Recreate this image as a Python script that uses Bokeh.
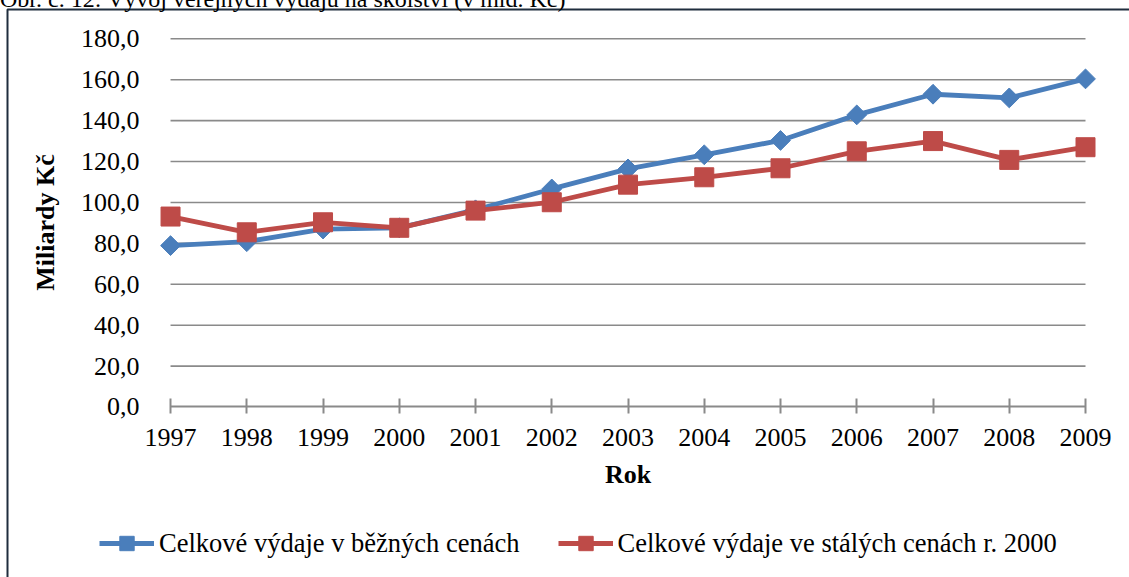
import math
from bokeh.plotting import figure
from bokeh.models import Range1d, FixedTicker, Legend, LegendItem, BoxAnnotation
from bokeh.embed import file_html
from bokeh.resources import INLINE

# ---- data ----
years = [1997, 1998, 1999, 2000, 2001, 2002, 2003, 2004, 2005, 2006, 2007, 2008, 2009]
bezne_ceny = [78.9, 80.8, 87.0, 87.6, 96.4, 106.6, 116.4, 123.3, 130.3, 142.8, 152.9, 151.1, 160.4]
stale_ceny = [93.1, 85.4, 90.3, 87.6, 96.0, 100.1, 108.7, 112.3, 116.7, 125.0, 130.0, 120.8, 127.0]
y_ticks = [0, 20, 40, 60, 80, 100, 120, 140, 160, 180]
y_tick_labels = ["0,0", "20,0", "40,0", "60,0", "80,0", "100,0", "120,0", "140,0", "160,0", "180,0"]
series_names = ["Celkové výdaje v běžných cenách",
                "Celkové výdaje ve stálých cenách r. 2000"]
title_text = "Obr. č. 12: Vývoj veřejných výdajů na školství (v mld. Kč)"
x_title = "Rok"
y_title = "Miliardy Kč"

FONT = "Liberation Serif"
FS = "26px"
BLUE = "#4a7ebb"
RED = "#be4b48"
GRID = "#8a8a8a"
EDGE = "#1f2d3d"

W, H = 1129, 577

# the plotting frame covers the whole canvas; axes are pinned at data positions
p = figure(width=W, height=H, output_backend="svg", toolbar_location=None,
           x_range=Range1d(1994.77, 2009.577),
           y_range=Range1d(-83.35, 198.72),
           min_border=0)
p.outline_line_color = None
p.background_fill_color = "white"
p.border_fill_color = "white"
p.xgrid.visible = False
p.ygrid.visible = False

# outer chart box (left and top edges visible)
p.add_layout(BoxAnnotation(left=7, right=W + 20, top=9, bottom=H + 20,
                           left_units="canvas", right_units="canvas",
                           top_units="canvas", bottom_units="canvas",
                           fill_alpha=0, line_color=EDGE, line_alpha=1.0,
                           line_width=2))

# gridlines spanning only the category extent
gy = y_ticks[1:]
p.segment(x0=[years[0]] * len(gy), x1=[years[-1]] * len(gy), y0=gy, y1=gy,
          line_color=GRID, line_width=1.6)

# series
lb = p.line(years, bezne_ceny, line_color=BLUE, line_width=4.8)
sb = p.scatter(years, bezne_ceny, marker="square", angle=math.pi / 4, size=14,
               fill_color=BLUE, line_color=BLUE)
lr = p.line(years, stale_ceny, line_color=RED, line_width=4.8)
sr = p.scatter(years, stale_ceny, marker="square", size=19,
               fill_color=RED, line_color=RED)

# x axis (pinned at y = 0)
xa = p.xaxis[0]
xa.fixed_location = y_ticks[0]
xa.ticker = FixedTicker(ticks=years)
xa.bounds = (years[0], years[-1])
xa.axis_line_color = GRID
xa.axis_line_width = 2
xa.major_tick_line_color = GRID
xa.major_tick_line_width = 2
xa.major_tick_in = 8
xa.major_tick_out = 7
xa.minor_tick_line_color = None
xa.major_label_text_font = FONT
xa.major_label_text_font_size = FS
xa.major_label_text_color = "black"
xa.major_label_standoff = 15
xa.axis_label = x_title
xa.axis_label_text_font = FONT
xa.axis_label_text_font_size = FS
xa.axis_label_text_font_style = "bold"
xa.axis_label_text_color = "black"
xa.axis_label_standoff = 11

# y axis (pinned at the first category)
ya = p.yaxis[0]
ya.fixed_location = years[0]
ya.ticker = FixedTicker(ticks=y_ticks)
ya.bounds = (y_ticks[0], y_ticks[-1])
ya.major_label_overrides = dict(zip(y_ticks, y_tick_labels))
ya.axis_line_color = None
ya.major_tick_line_color = None
ya.major_tick_out = 0
ya.major_tick_in = 0
ya.minor_tick_line_color = None
ya.major_label_text_font = FONT
ya.major_label_text_font_size = FS
ya.major_label_text_color = "black"
ya.major_label_standoff = 31
ya.axis_label = y_title
ya.axis_label_text_font = FONT
ya.axis_label_text_font_size = FS
ya.axis_label_text_font_style = "bold"
ya.axis_label_text_color = "black"
ya.axis_label_standoff = 18

# series legend at the bottom of the chart box
legend = Legend(items=[LegendItem(label=series_names[0], renderers=[lb, sb]),
                       LegendItem(label=series_names[1], renderers=[lr, sr])],
                orientation="horizontal", location=(99, 16),
                glyph_width=55, glyph_height=36, label_standoff=5, spacing=38,
                padding=0, margin=0, border_line_color=None,
                background_fill_alpha=0,
                label_text_font=FONT, label_text_font_size="26.5px",
                label_text_color="black")
p.add_layout(legend, "center")

# caption above the chart box (cut off at the top edge, as in the reference)
cap_r = p.line(x=[], y=[], line_alpha=0)
caption = Legend(items=[LegendItem(label=title_text, renderers=[cap_r])],
                 location=(0, 564), glyph_width=0, glyph_height=1,
                 label_standoff=0, padding=0, margin=0,
                 border_line_color=None, background_fill_alpha=0,
                 label_text_font=FONT, label_text_font_size="24px",
                 label_text_color="black")
p.add_layout(caption, "center")

open("out.html", "w").write(file_html(p, INLINE))
